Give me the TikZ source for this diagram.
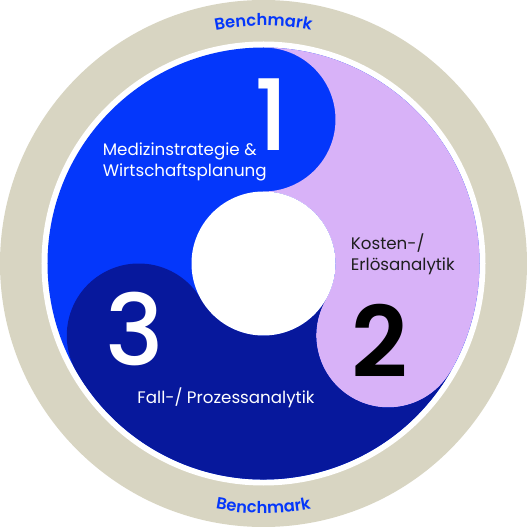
\documentclass[tikz,border=0pt]{standalone}
\usepackage{fontspec}
\setmainfont{Poppins}
\newfontfamily\mediumfont{Poppins}[UprightFont=* Medium]
\newfontfamily\semifont{Poppins}[UprightFont=* SemiBold]
\usetikzlibrary{decorations.text}

\definecolor{ringgrey}{HTML}{D8D5C2}
\definecolor{segblue}{HTML}{0437FB}
\definecolor{segnavy}{HTML}{07189C}
\definecolor{seglav}{HTML}{D8B2F8}
\definecolor{textdark}{HTML}{1E1E1E}
\newcommand\bmfont{\fontsize{9.3}{12}\selectfont\semifont}

\begin{document}
\begin{tikzpicture}
    \useasboundingbox (-5.27,-5.27) rectangle (5.27,5.27);
    \fill[ringgrey] (0,0) circle (5.27);
    \fill[white] (0,0) circle (4.44);
    \fill[segblue] (0,0) circle (4.32);

    \foreach \col/\rot in {seglav/-120, segnavy/120}{
        \begin{scope}[rotate=\rot]
            \fill[\col] (90:4.32) arc[start angle=90, end angle=-90, radius=1.44]
                arc[start angle=90, end angle=210, radius=1.44]
                arc[start angle=30, end angle=210, radius=1.44]
                arc[start angle=210, end angle=90, radius=4.32] -- cycle;
        \end{scope}
    }
    \node[circle, fill=white, minimum size=2.88cm, inner sep=0] (hub) at (0,0) {};

    \begin{scope}[every node/.style={font=\fontsize{56}{56}\selectfont\mediumfont, inner sep=0}]
        \node[text=white] (one) at (0.17,2.97) {1};
        \node[text=black, font=\fontsize{56}{56}\selectfont\semifont] (two) at (2.33,-1.55) {2};
        \node[text=white] (three) at (-2.58,-1.31) {3};
    \end{scope}

    \begin{scope}[every node/.style={font=\fontsize{9.5}{12}\selectfont, inner sep=0, align=left}]
        \node[text=white, anchor=west] (strategy) at (-3.22,2.03) {Medizinstrategie \&\\Wirtschaftsplanung};
        \node[text=textdark, anchor=west] (costs) at (1.74,0.19) {Kosten-/\\Erlösanalytik};
        \node[text=white] (process) at (-0.75,-2.69) {Fall-/ Prozessanalytik};
    \end{scope}

    \path[decorate, decoration={text along path, text align=center, text color=segblue,
        text={|\bmfont|Benchmark}}] (115:4.76) arc[start angle=115, end angle=65, radius=4.76];
    \path[decorate, decoration={text along path, text align=center, text color=segblue,
        text={|\bmfont|Benchmark}}] (245:5.0) arc[start angle=245, end angle=295, radius=5.0];
\end{tikzpicture}
\end{document}
